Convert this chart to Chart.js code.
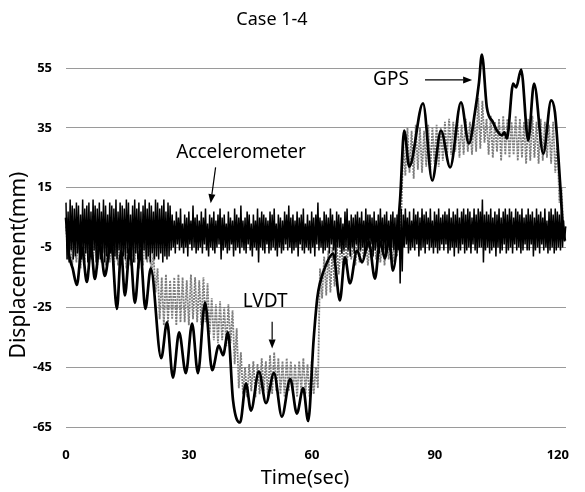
<!DOCTYPE html>
<html><head><meta charset="utf-8">
<script src="https://cdn.jsdelivr.net/npm/chart.js@4/dist/chart.umd.min.js"></script>
<style>html,body{margin:0;padding:0;background:#fff;}</style>
</head><body>
<canvas id="c" width="585" height="492"></canvas>
<script>
// ---- axis ----
const xTicks = [0, 30, 60, 90, 120];
const yTicks = [-65, -45, -25, -5, 15, 35, 55];

// ---- Accelerometer (sampled every 0.254 s from t = 0) ----
const accStart = 0, accStep = 0.254;
const accValues = [
 10,-9,7,-10,11,-6,9,-9,8,-8, 10,-7,9,-10,6,-9,11,-8,8,-7, 9,-10,10,-8,7,-9,11,-6,9,-10,
 8,-8,10,-9,7,-7,11,-10,9,-8, 6,-9,10,-7,9,-10,8,-8,11,-9, 7,-6,10,-10,9,-8,8,-9,11,-7,
 10,-9,6,-8,9,-10,11,-7,8,-9, 10,-8,7,-10,9,-6,11,-9,8,-8, 10,-10,9,-7,7,-9,11,-8,10,-9,
 8,-7,9,-10,11,-8,7,-9,10,-8, 9,
 -6,
 6,-5,4,-7,7,-4,5,-6,8,-5, 3,-7,6,-5,5,-8,7,-4,4,-6, 9,-5,5,-7,6,-6,4,-5,7,-7,
 5,-4,8,-6,3,-8,6,-5,5,-6, 7,-7,4,-5,6,-4,8,-9,5,-6, 6,-5,3,-7,7,-6,5,-4,4,-8,
 8,-6,6,-5,5,-7,9,-5,4,-6, 5,-7,7,-4,6,-6,3,-8,6,-5, 4,-6,8,-10,5,-5,7,-6,6,-7,
 5,-4,4,-7,7,-6,6,-5,8,-6, 3,-8,6,-5,5,-7,4,-6,7,-4, 6,-6,9,-5,5,-7,6,-6,4,-5,
 7,-8,5,-4,6,-6,8,-7,3,-5, 6,-6,4,-7,7,-5,5,-8,6,-4, 10,-6,5,-5,4,-7,7,-6,6,-5,
 5,-7,8,-4,6,-6,4,-9,7,-5, 6,-5,5,-7,3,-6,7,-5,8,-6, 4,-8,6,-5,5,-7,6,-4,7,-6,
 5,-6,7,-5,4,-7,8,-6,6,-5, 6,-4,5,-8,7,-6,4,-5,6,-7, 8,-5,5,-6,6,-7,7,-5,4,-6,
 6,-5,7,-6,5,-8,6,-6,
 7,-17,8,-13,
 6,-5,8,-4,5,-7,7,-6,4,-5, 8,-6,6,-4,7,-8,5,-6,8,-5, 6,-7,7,-4,5,-6,8,-5,4,-7,
 7,-5,6,-7,8,-6,5,-4,6,-6, 7,-4,6,-7,8,-6,5,-5,7,-8, 6,-5,8,-7,5,-6,7,-4,8,-7,
 6,-6,8,-5,7,-7,5,-4,8,-6, 6,-7,8,-5,7,-5,11,-10,6,-6, 7,-5,6,-7,8,-6,5,-5,7,-8,
 6,-5,8,-7,5,-6,7,-4,8,-7, 6,-6,8,-5,7,-7,5,-4,8,-6, 7,-5,6,-7,8,-6,5,-4,6,-6,
 8,-6,6,-4,7,-8,5,-6,8,-5, 6,-7,7,-4,5,-6,8,-5,4,-7, 7,-6,8,-5,6,-7,8,-6,7,-5,
 6,-6,7,-5,4,-3,2
];

// ---- LVDT (sampled every 0.508 s from t = 0) ----
const lvdtStart = 0, lvdtStep = 0.508;
const lvdtValues = [
 2,-9,-1,-11,-2,-10,-1,-12,-2,-10, -1,-11,-2,-9,-1,-12,-2,-10,-1,-11,
 -2,-10,-1,-12,-2,-11,-1,-10,-2,-12, -1,-11,-2,-10,-1,-12,-2,-11,-1,-10, -3,
 -14,-7,-20,-12,
 -29,-15,-31,-14,-30,-16,-29,-15,-31,-14,-30,-15,-30,-16,-31,-14,-29,-15,-30,-16,-31,-15,-30,-17,
 -34,-22,-36,-24,-37,-23,-36,-25,-38,-24,-37,-26,
 -44,-32,-52,-40,
 -54,-45,-55,-44,-53,-43,-55,-44,-54,-42,-53,-43,-55,-41,-54,-40,-53,-42,
 -54,-43,-55,-42,-53,-43,-54,-44,-55,-43,-53,-42,-54,-44,-55,-43,-54,-45,
 -52,-12,-22,-8,-21,-6,-20,-5,
 -18,-4,-14,-3,-11,-2,-10,-1,-9,-3,-11,-2,-10,-1,-9,-2,-11,-3,-10,-1,-9,-2,-10,-3,-11,-1,-9,-2,-10,-3,-8,0,
 5,30,
 19,35,20,34,18,36,21,35,20,34,22,36,21,35,23,36,22,35,24,37,
 25,38,26,37,27,38,25,36,26,38,27,37,26,39,27,
 45,28,44,30,
 38,26,39,25,37,27,38,24,39,26,38,25,37,26,39,24,38,25,37,23,38,24,39,25,37,23,38,24,37,25,36,23,37,
 20,30,10,15,0,2
];

// ---- GPS (time, displacement) ----
const gpsTimes = [0,0.71,1.63,2.65,3.87,5.09,6.11,7.03,8.25,9.47,11.0,12.43,13.45,14.37,15.59,16.81,18.13,19.36,20.68,
 23.23,24.66,26.08,27.61,29.24,30.77,32.19,33.93,35.66,37.29,38.31,39.53,40.75,42.48,43.91,45.13,47.07,48.8,50.74,52.67,
 54.71,56.34,57.87,59.09,60.41,61.33,61.94,63.68,65.2,66.83,68.06,69.28,71.01,72.23,73.86,75.39,76.61,77.84,78.86,79.77,
 81.5,82.52,83.75,87.11,89.35,91.49,93.73,96.38,98.31,99.84,100.76,101.47,102.69,104.22,105.14,106.36,106.97,107.59,
 109.11,109.83,111.05,112.78,114.21,116.45,118.38,119.3,120.52,121.24,121.74];
const gpsValues = [5,-7,-12,-17.5,-5,-16.5,-5,-15.5,-4,-14.5,-3,-25.5,-6,-21,-5,-23.5,-6,-25.5,-12,
 -42,-30,-48.5,-33.4,-47,-30.4,-47,-23.4,-46,-37.8,-41,-33.4,-56,-63.5,-50.5,-59.5,-46.5,-57,-47,-61.5,
 -49,-60.5,-52,-63,-36,-21.7,-17,-10,-7,-22.7,-8.3,-17,-6,-10,-3,-15.4,-3,-8.7,-2,-12.7,
 10.7,34.1,22,43.2,17.4,34.1,21.8,43.5,29.8,40.8,50,59.5,41.8,36.8,34.1,32.5,33.5,31.5,
 49.8,48.5,54.5,30.8,49.8,26.4,44.2,40.2,17.4,1.7,-2.7];

// ---- annotations (data coordinates) ----
const noteTexts = ['GPS', 'Accelerometer', 'LVDT'];
const noteAt = [[79.3, 51.0], [42.7, 26.8], [48.6, -23.0]];
const arrowFrom = [[87.6, 51.0], [36.5, 21.8], [50.3, -29.8]];
const arrowTo = [[99.1, 51.0], [35.3, 9.8], [50.3, -38.8]];

const FONT = "'Noto Sans', 'Open Sans', sans-serif";

const toXY = (start, step, vals) => vals.map((v, i) => ({x: start + i * step, y: v}));
const gpsData = gpsTimes.map((t, i) => ({x: t, y: gpsValues[i]}));

const decor = {
  id: 'decor',
  afterDatasetsDraw(chart) {
    const ctx = chart.ctx, xs = chart.scales.x, ys = chart.scales.y;
    ctx.save();
    ctx.fillStyle = '#000';
    ctx.strokeStyle = '#000';
    ctx.font = "19px " + FONT;
    ctx.textAlign = 'center';
    ctx.textBaseline = 'middle';
    noteTexts.forEach((t, i) => {
      ctx.fillText(t, xs.getPixelForValue(noteAt[i][0]), ys.getPixelForValue(noteAt[i][1]));
      const x1 = xs.getPixelForValue(arrowFrom[i][0]), y1 = ys.getPixelForValue(arrowFrom[i][1]);
      const x2 = xs.getPixelForValue(arrowTo[i][0]), y2 = ys.getPixelForValue(arrowTo[i][1]);
      const a = Math.atan2(y2 - y1, x2 - x1), L = 9, W = 3.5;
      const bx = x2 - L * Math.cos(a), by = y2 - L * Math.sin(a);
      ctx.lineWidth = 1.2;
      ctx.beginPath(); ctx.moveTo(x1, y1); ctx.lineTo(bx, by); ctx.stroke();
      ctx.beginPath();
      ctx.moveTo(x2, y2);
      ctx.lineTo(bx - W * Math.sin(a), by + W * Math.cos(a));
      ctx.lineTo(bx + W * Math.sin(a), by - W * Math.cos(a));
      ctx.closePath(); ctx.fill();
    });
    ctx.font = "18px " + FONT;
    ctx.fillText('Case 1-4', 272, 20);
    ctx.font = "20px " + FONT;
    ctx.fillText('Time(sec)', 305, 478);
    ctx.translate(19, 265);
    ctx.rotate(-Math.PI / 2);
    ctx.font = "21px " + FONT;
    ctx.fillText('Displacement(mm)', 0, 0);
    ctx.restore();
  }
};

new Chart(document.getElementById('c'), {
  type: 'line',
  data: {
    datasets: [
      {label: 'GPS', data: gpsData, borderColor: '#000', borderWidth: 2.7, pointRadius: 0,
       borderJoinStyle: 'round', cubicInterpolationMode: 'monotone', clip: false, order: 0},
      {label: 'Accelerometer', data: toXY(accStart, accStep, accValues), borderColor: '#000',
       borderWidth: 1.5, borderJoinStyle: 'bevel', pointRadius: 0, tension: 0, clip: false, order: 1},
      {label: 'LVDT', data: toXY(lvdtStart, lvdtStep, lvdtValues), borderColor: '#7d7d7d',
       borderWidth: 1.8, borderDash: [2, 1], borderJoinStyle: 'bevel', pointRadius: 0, tension: 0,
       clip: false, order: 2}
    ]
  },
  options: {
    responsive: false,
    animation: false,
    events: [],
    layout: {padding: {top: 68, right: 19, left: 0, bottom: 0}},
    plugins: {legend: {display: false}, tooltip: {enabled: false}, title: {display: false}},
    scales: {
      x: {
        type: 'linear', min: 0, max: 122,
        afterBuildTicks: s => { s.ticks = xTicks.map(v => ({value: v})); },
        afterFit: s => { s.height = 65; s.paddingLeft = 0; s.paddingRight = 0; },
        grid: {display: false, drawTicks: false},
        border: {display: false},
        ticks: {color: '#000', font: {family: FONT, size: 13, weight: 'bold'}, padding: 20, maxRotation: 0}
      },
      y: {
        type: 'linear', min: -65, max: 55,
        afterBuildTicks: s => { s.ticks = yTicks.map(v => ({value: v})); },
        afterFit: s => { s.width = 66; s.paddingTop = 0; s.paddingBottom = 0; },
        grid: {color: '#9a9a9a', lineWidth: 1, drawTicks: false},
        border: {display: false},
        ticks: {color: '#000', font: {family: FONT, size: 13, weight: 'bold'}, padding: 14}
      }
    }
  },
  plugins: [decor]
});
</script>
</body></html>
